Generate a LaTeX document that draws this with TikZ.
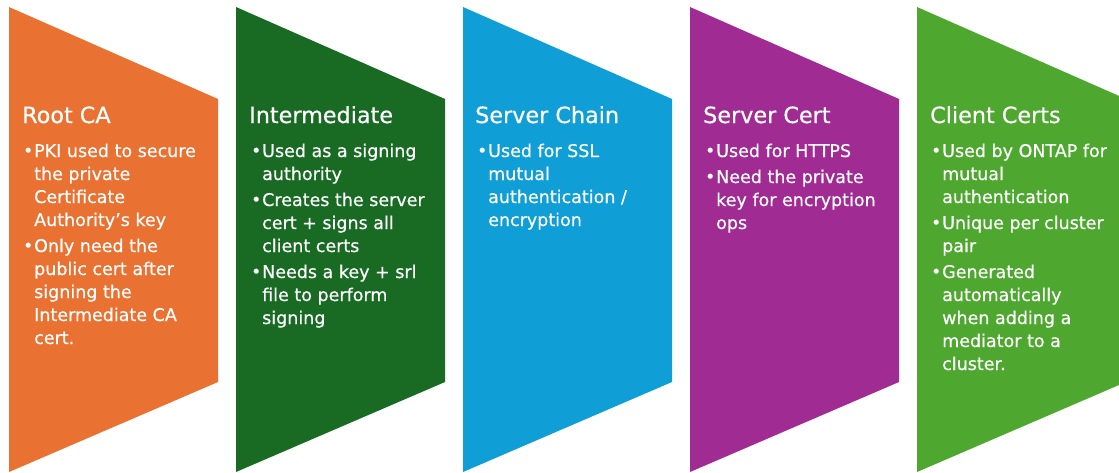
\documentclass[tikz,border=0pt]{standalone}
\usepackage{fontspec}
\setmainfont{DejaVu Sans}[FakeBold=0.5]
\definecolor{pkiorange}{HTML}{E97132}
\definecolor{pkidkgreen}{HTML}{196B24}
\definecolor{pkiblue}{HTML}{0F9ED5}
\definecolor{pkipurple}{HTML}{A02B93}
\definecolor{pkigreen}{HTML}{4EA72E}
% bullet mark followed by the item text column
\newcommand{\bl}{\makebox[10pt][l]{\hspace{-1pt}\raisebox{0.5pt}{\fontsize{17}{17}\selectfont •}}}
\newcommand{\gap}{\\[3pt]}
% one tapered panel starting at x = #1
\newcommand{\pkipanel}[2]{\fill[#2] (#1,7) -- (#1+209,99) -- (#1+209,382) -- (#1,472) -- cycle;}
\tikzset{
  paneltitle/.style={anchor=base west, inner sep=0pt, text=white,
    font=\fontsize{22.3}{26}\selectfont},
  panelbody/.style={anchor=base west, inner sep=0pt, text=white,
    font=\fontsize{17.5}{23}\selectfont},
}
\begin{document}
\begin{tikzpicture}[x=1pt,y=-1pt]
\useasboundingbox (0,0) rectangle (1119,472);
\clip (0,0) rectangle (1119,472);
\pkipanel{9}{pkiorange}
\pkipanel{236}{pkidkgreen}
\pkipanel{463}{pkiblue}
\pkipanel{690}{pkipurple}
\pkipanel{917}{pkigreen}

\node[paneltitle] (t1) at (22,123) {Root CA};
\node[panelbody] (b1) at (24,157) {\begin{tabular}[t]{@{}l@{}l@{}}
\bl & PKI used to secure\\
 & the private\\
 & Certificate\\
 & Authority’s key\gap
\bl & Only need the\\
 & public cert after\\
 & signing the\\
 & Intermediate CA\\
 & cert.
\end{tabular}};

\node[paneltitle] (t2) at (249,123) {Intermediate};
\node[panelbody] (b2) at (252,157) {\begin{tabular}[t]{@{}l@{}l@{}}
\bl & Used as a signing\\
 & authority\gap
\bl & Creates the server\\
 & cert + signs all\\
 & client certs\gap
\bl & Needs a key + srl\\
 & file to perform\\
 & signing
\end{tabular}};

\node[paneltitle] (t3) at (475,123) {Server Chain};
\node[panelbody] (b3) at (478,157) {\begin{tabular}[t]{@{}l@{}l@{}}
\bl & Used for SSL\\
 & mutual\\
 & authentication /\\
 & encryption
\end{tabular}};

\node[paneltitle] (t4) at (703,123) {Server Cert};
\node[panelbody] (b4) at (706,157) {\begin{tabular}[t]{@{}l@{}l@{}}
\bl & Used for HTTPS\gap
\bl & Need the private\\
 & key for encryption\\
 & ops
\end{tabular}};

\node[paneltitle] (t5) at (930,123) {Client Certs};
\node[panelbody] (b5) at (932,157) {\begin{tabular}[t]{@{}l@{}l@{}}
\bl & Used by ONTAP for\\
 & mutual\\
 & authentication\gap
\bl & Unique per cluster\\
 & pair\gap
\bl & Generated\\
 & automatically\\
 & when adding a\\
 & mediator to a\\
 & cluster.
\end{tabular}};
\end{tikzpicture}
\end{document}
